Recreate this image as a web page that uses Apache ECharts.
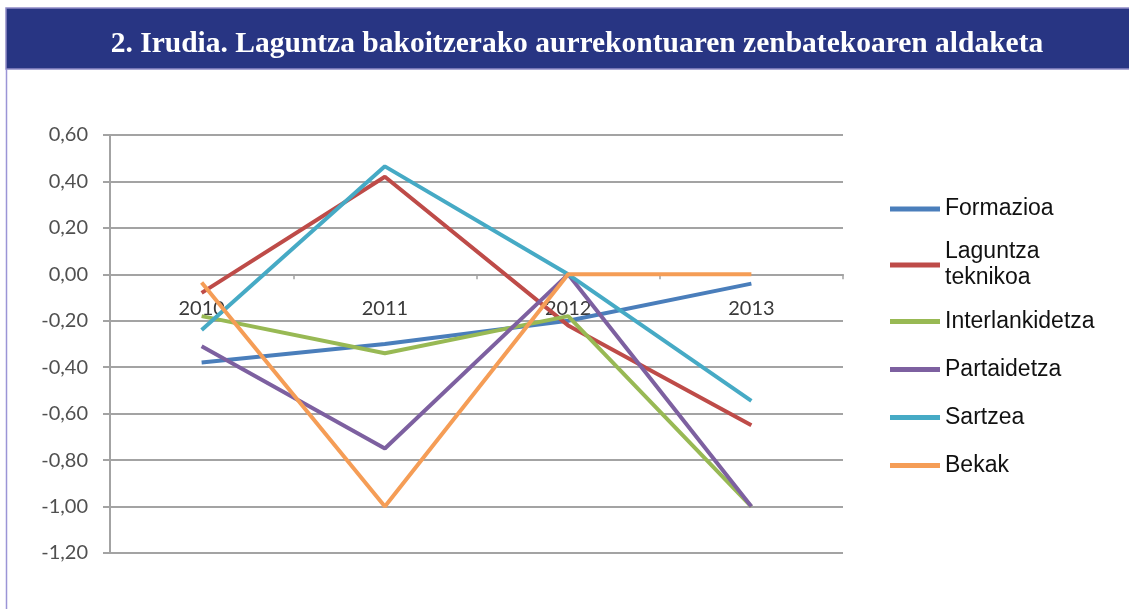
<!DOCTYPE html>
<html>
<head>
<meta charset="utf-8">
<script src="https://cdn.jsdelivr.net/npm/echarts@6/dist/echarts.min.js"></script>
<style>
html,body{margin:0;padding:0;background:#fff;}
#c{width:1129px;height:609px;}
</style>
</head>
<body>
<div id="c"></div>
<script>
const categories = ['2010', '2011', '2012', '2013'];
const formazioa = [-0.38, -0.30, -0.20, -0.04];
const laguntzaTeknikoa = [-0.08, 0.42, -0.22, -0.65];
const interlankidetza = [-0.18, -0.34, -0.18, -1.00];
const partaidetza = [-0.31, -0.75, 0.00, -1.00];
const sartzea = [-0.24, 0.465, 0.00, -0.545];
const bekak = [-0.035, -1.00, 0.00, 0.00];
const yTicks = [-1.2, -1.0, -0.8, -0.6, -0.4, -0.2, 0.0, 0.2, 0.4, 0.6];
const seriesNames = ['Formazioa', 'Laguntza\nteknikoa', 'Interlankidetza', 'Partaidetza', 'Sartzea', 'Bekak'];
const seriesData = [formazioa, laguntzaTeknikoa, interlankidetza, partaidetza, sartzea, bekak];
const colors = ['#4a7ebb', '#be4b48', '#98b954', '#7d60a0', '#46aac5', '#f59d56'];
const titleText = '2. Irudia. Laguntza bakoitzerako aurrekontuaren zenbatekoaren aldaketa';

const yMin = yTicks[0], yMax = yTicks[yTicks.length - 1];
const gridTop = 135, gridBottom = 56, H = 609;
const plotH = H - gridTop - gridBottom;
const zeroOffset = -(plotH * (0 - yMin) / (yMax - yMin));

const legendBase = {
  orient: 'vertical', left: 885,
  itemWidth: 50, itemHeight: 5, icon: 'rect'
};
const legendText = lh => ({ fontFamily: 'Liberation Sans', fontSize: 23, color: '#111', lineHeight: lh });

const chart = echarts.init(document.getElementById('c'));
chart.setOption({
  animation: false,
  backgroundColor: '#ffffff',
  title: {
    text: titleText,
    left: 572, top: 39, textAlign: 'center', textVerticalAlign: 'middle',
    textStyle: { color: '#ffffff', fontFamily: 'Liberation Serif', fontWeight: 'bold', fontSize: 29.5 }
  },
  graphic: [
    { type: 'rect', z: -1, shape: { x: 6, y: 8, width: 1130, height: 61 },
      style: { fill: '#283583', stroke: '#8e8ac6', lineWidth: 1.5 } },
    { type: 'line', shape: { x1: 6.5, y1: 69, x2: 6.5, y2: 609 },
      style: { stroke: '#9b95d6', lineWidth: 1.5 } }
  ],
  color: colors,
  legend: [
    Object.assign({}, legendBase, { top: 191, itemGap: 17, textStyle: legendText(26), data: seriesNames.slice(0, 2) }),
    Object.assign({}, legendBase, { top: 305, itemGap: 25, textStyle: legendText(22), data: seriesNames.slice(2) })
  ],
  grid: { left: 110, right: 286, top: gridTop, bottom: gridBottom },
  xAxis: {
    type: 'category', data: categories, boundaryGap: true,
    offset: zeroOffset,
    axisLine: { onZero: false, lineStyle: { color: '#a3a3a3', width: 2 } },
    axisTick: { show: true, length: 5, lineStyle: { color: '#a3a3a3', width: 1.5 } },
    axisLabel: { margin: 24, fontFamily: 'Lato', fontSize: 20, color: '#3a3a3a' }
  },
  yAxis: {
    type: 'value', min: yMin, max: yMax, interval: 0.2,
    axisLine: { show: true, lineStyle: { color: '#a3a3a3', width: 2 } },
    axisTick: { show: true, length: 7, lineStyle: { color: '#a3a3a3', width: 2 } },
    splitLine: { lineStyle: { color: '#a3a3a3', width: 2 } },
    axisLabel: { margin: 22, fontFamily: 'Lato', fontSize: 20, color: '#505050',
      formatter: v => v.toFixed(2).replace('.', ',') }
  },
  series: seriesNames.map((n, i) => ({
    name: n, type: 'line', data: seriesData[i], symbol: 'none',
    lineStyle: { width: 4 }, z: 2
  }))
});
</script>
</body>
</html>
